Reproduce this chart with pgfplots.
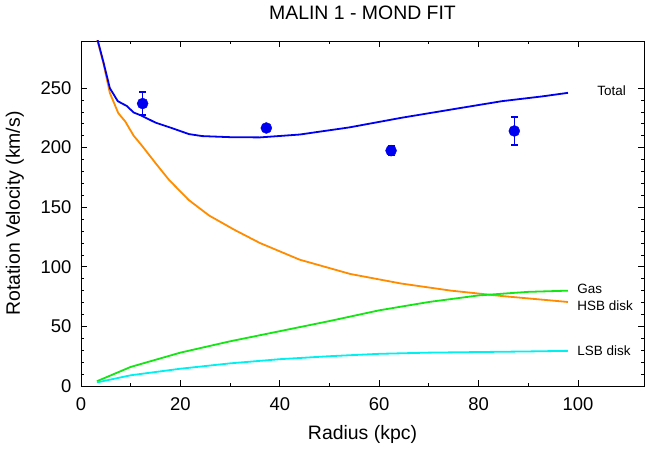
\documentclass[border=0pt]{standalone}
\usepackage{fontspec}
\setmainfont{Liberation Sans}
\usepackage{pgfplots}
\pgfplotsset{compat=1.18}
\usetikzlibrary{calc}

\definecolor{ctotal}{RGB}{0,0,240}
\definecolor{chsb}{RGB}{255,140,0}
\definecolor{cgas}{RGB}{20,230,20}
\definecolor{clsb}{RGB}{0,240,240}

\begin{document}
\begin{tikzpicture}
\begin{axis}[
  name=ax,
  scale only axis, width=563bp, height=345bp,
  xmin=0, xmax=113.3, ymin=0, ymax=289.5,
  xtick={0,20,40,60,80,100}, ytick={0,50,100,150,200,250},
  minor x tick num=1, minor y tick num=4,
  tick align=inside, major tick length=6bp, minor tick length=3.5bp,
  tick style={black, line width=0.8bp},
  axis line style={black, line width=0.8bp},
  /pgf/number format/assume math mode=true,
  tick label style={font=\fontsize{18.5}{20}\selectfont},
  xticklabel style={yshift=-8bp},
  yticklabel style={xshift=-6bp},
  title={MALIN 1 - MOND FIT},
  title style={at={(0.5,1)}, anchor=base, yshift=16bp, font=\fontsize{19.5}{22}\selectfont},
  xlabel={Radius (kpc)},
  xlabel style={at={(0.5,0)}, anchor=base, yshift=-53bp, font=\fontsize{19.5}{22}\selectfont},
  clip=true,
]
% HSB disk
\addplot[chsb, line width=1.8bp] coordinates {
 (2.8,298)(4.5,271)(5.8,246)(7.5,229)(8.9,222)(10.6,210)(12.2,202)(15,187)(17.7,173)
 (21.7,156)(25.8,143)(30.9,131)(36,120)(44,106)(54.2,94)(64.4,86)(74.5,80)(84.7,75.5)(98,70.5)};
% Gas
\addplot[cgas, line width=1.8bp] coordinates {
 (3.2,4)(10,16)(20,28)(30,37.5)(40,46)(50,54.5)(60,63.5)(70,70.5)(80,76)(90,79)(98,80)};
% LSB disk
\addplot[clsb, line width=1.8bp] coordinates {
 (3.2,3)(10,9)(20,14.5)(30,19)(40,22.5)(50,25)(60,27)(70,28)(80,28.5)(90,29)(98,29.5)};
% Total
\addplot[ctotal, line width=1.8bp] coordinates {
 (2.8,299)(4.5,272)(5.8,250)(7.4,239)(9.2,235)(10.6,229.5)(12.1,227)(15,221)(18.3,216.4)
 (21.7,211.4)(24.4,209.7)(30,208.8)(36,208.6)(44,211)(54,217)(64.4,225)(74.5,232)(84.7,239)(92.8,243)(98,246)};
% data points
\addplot[ctotal, only marks, mark=*, mark size=5.5bp,
  error bars/.cd, y dir=both, y explicit,
  error bar style={line width=1.5bp, ctotal},
  error mark options={rotate=90, mark size=3.5bp, line width=1.5bp, ctotal}]
  coordinates {
 (12.4,237) +- (0,9.5)
 (37.3,216.5) +- (0,2)
 (62.4,197.5) +- (0,4)
 (87.2,214) +- (0,11.8)
};
\node[anchor=west, font=\fontsize{13.5}{15}\selectfont] at (axis cs:103.2,247.5) {Total};
\node[anchor=west, font=\fontsize{13.5}{15}\selectfont] at (axis cs:99.2,81.4) {Gas};
\node[anchor=west, font=\fontsize{13.5}{15}\selectfont] at (axis cs:99.2,67) {HSB disk};
\node[anchor=west, font=\fontsize{13.5}{15}\selectfont] at (axis cs:99.2,29.4) {LSB disk};
\end{axis}
\node[rotate=90, anchor=base, font=\fontsize{19.5}{22}\selectfont] at ($(ax.west)+(-61bp,0)$) {Rotation Velocity (km/s)};
\pgfresetboundingbox
\path ($(ax.south west)+(-81bp,-64bp)$) rectangle ($(ax.north east)+(1bp,41bp)$);
\end{tikzpicture}
\end{document}
